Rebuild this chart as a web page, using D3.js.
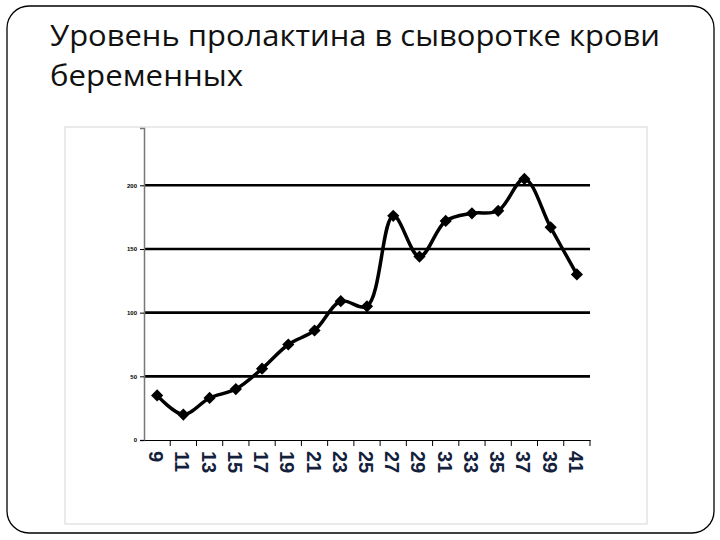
<!DOCTYPE html>
<html><head><meta charset="utf-8">
<script src="https://cdn.jsdelivr.net/npm/d3@7"></script>
<style>html,body{margin:0;padding:0;background:#fff;}svg{display:block;}</style>
</head><body>
<script>
const titleLines = ["Уровень пролактина в сыворотке крови", "беременных"];
const weeks = ["9","11","13","15","17","19","21","23","25","27","29","31","33","35","37","39","41"];
const prolactin = [35,20,33,40,56,75,86,109,105,176,144,172,178,180,205,167,130];
const yTicks = [0,50,100,150,200];

(function(){
const W = 720, H = 540;
const svg = d3.select("body").append("svg").attr("width", W).attr("height", H);

// slide frame
svg.append("rect").attr("x",7).attr("y",6).attr("width",707).attr("height",527)
  .attr("rx",22).attr("fill","#fff").attr("stroke","#000").attr("stroke-width",1.3);

// title
const titleWidths = [610, 193];
svg.append("g").selectAll("text").data(titleLines).join("text")
  .attr("x",50).attr("y",(d,i)=>46+i*40)
  .attr("font-family","'Open Sans', sans-serif")
  .attr("font-size",29).attr("fill","#111").text(d=>d)
  .each(function(d,i){
    const w = this.getComputedTextLength();
    if (Math.abs(w-titleWidths[i]) > 3) d3.select(this).attr("textLength",titleWidths[i]).attr("lengthAdjust","spacingAndGlyphs");
  });

// chart area border
svg.append("rect").attr("x",65).attr("y",127).attr("width",582).attr("height",397)
  .attr("fill","none").attr("stroke","#dcdcdc").attr("stroke-width",1.2);

const pLeft = 144, pRight = 590, pTop = 128, pBottom = 440;
const x = d3.scaleBand().domain(weeks).range([pLeft,pRight]);
const y = d3.scaleLinear().domain([0,245]).range([pBottom,pTop]);

// gridlines
svg.append("g").selectAll("line").data(yTicks.filter(d=>d>0)).join("line")
  .attr("x1",pLeft).attr("x2",pRight).attr("y1",d=>y(d)).attr("y2",d=>y(d))
  .attr("stroke","#000").attr("stroke-width",2.6);

// y axis
const yAxis = svg.append("g").attr("transform",`translate(${pLeft},0)`)
  .call(d3.axisLeft(y).tickValues(yTicks).tickSize(4).tickPadding(3));
yAxis.select(".domain").attr("stroke","#777").attr("stroke-width",1.5);
yAxis.selectAll(".tick line").attr("stroke","#000");
yAxis.selectAll("text").attr("font-family","Arial, sans-serif").attr("font-size",6)
  .attr("font-weight","bold").attr("fill","#000");

// x axis
const xAxis = svg.append("g").attr("transform",`translate(0,${pBottom})`)
  .call(d3.axisBottom(x).tickSize(0).tickPadding(0));
xAxis.select(".domain").attr("stroke","#000").attr("stroke-width",1.2);
xAxis.selectAll("text")
  .attr("font-family","'Liberation Sans', Arial, sans-serif").attr("font-size",20)
  .attr("font-weight","bold").attr("fill","#14213d")
  .attr("text-anchor","start").attr("dy","0.35em").attr("y",0)
  .attr("transform","translate(-1,11) rotate(90)");
// boundary tick marks
const bounds = weeks.map(d=>x(d)).concat([x(weeks[weeks.length-1])+x.bandwidth()]);
svg.append("g").selectAll("line").data(bounds.slice(1)).join("line")
  .attr("x1",d=>d).attr("x2",d=>d).attr("y1",pBottom).attr("y2",pBottom+6)
  .attr("stroke","#000").attr("stroke-width",1);

// line
const cx = (d,i)=>x(weeks[i])+x.bandwidth()/2;
const line = d3.line().x((d,i)=>cx(d,i)).y(d=>y(d)).curve(d3.curveCatmullRom.alpha(0.5));
svg.append("path").datum(prolactin).attr("d",line)
  .attr("fill","none").attr("stroke","#000").attr("stroke-width",3.5).attr("stroke-linejoin","round");

// markers
svg.append("g").selectAll("path").data(prolactin).join("path")
  .attr("d",d3.symbol().type(d3.symbolDiamond2).size(95))
  .attr("transform",(d,i)=>`translate(${cx(d,i)},${y(d)})`)
  .attr("fill","#000");
})();
</script>
</body></html>
